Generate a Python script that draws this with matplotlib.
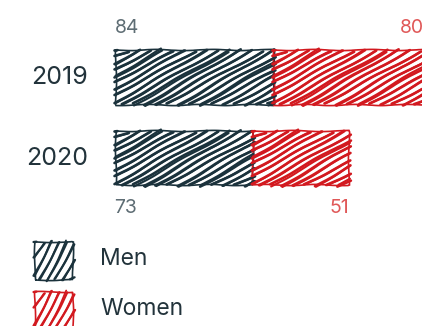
import matplotlib
matplotlib.use("Agg")
import matplotlib.pyplot as plt
import numpy as np
from matplotlib.lines import Line2D
from matplotlib.patches import Rectangle
from matplotlib.transforms import IdentityTransform

years = ["2019", "2020"]
men = [84, 73]
women = [80, 51]
series = ["Men", "Women"]

MEN_COLOR = "#1b323c"
WOMEN_COLOR = "#d2191f"
MEN_LABEL = "#5e6d74"
WOMEN_LABEL = "#e05858"
TEXT = "#22333b"

plt.rcParams["font.family"] = ["Inter", "DejaVu Sans"]

W, H = 422, 326
fig = plt.figure(figsize=(W / 100, H / 100), dpi=100)
ax = fig.add_axes([116 / W, 1 - 230 / H, 1 - 116 / W, 230 / H])
ax.set_xlim(0, (W - 116) / 1.88)
ax.set_ylim(1.883, -0.957)
ax.axis("off")

leg = fig.add_axes([0, 0, 1, 1])
leg.set_xlim(0, W)
leg.set_ylim(H, 0)
leg.axis("off")

# small fixed offsets so the pen strokes don't look ruled
JITTER = [0.0, 1.3, -0.8, 0.6, -1.4, 1.0, -0.3, 0.9, -1.1, 0.4, 1.5, -0.6]


def stroke(xa, ya, xb, yb, color, lw):
    ln = Line2D([xa, xb], [ya, yb], color=color, lw=lw,
                solid_capstyle="round", transform=IdentityTransform())
    ln.set_sketch_params(0.7, 80, 2)
    fig.add_artist(ln)


def hachure(x0, y0, x1, y1, color, angle=30, gap=5.0, lw=1.8):
    # diagonal pen strokes filling a box given in display pixels
    t = np.tan(np.radians(angle))
    step = gap / np.sin(np.radians(angle))
    c = x0 - (y1 - y0) / t
    n = 0
    while c < x1:
        xa, ya = c, y0
        xb, yb = c + (y1 - y0) / t, y1
        if xa < x0:
            ya = y0 + (x0 - xa) * t
            xa = x0
        if xb > x1:
            yb = y1 - (xb - x1) * t
            xb = x1
        j1 = JITTER[n % len(JITTER)]
        j2 = JITTER[(n * 5 + 3) % len(JITTER)]
        stroke(xa - 1.5, ya + j1 * 0.8, xb + 1.5, yb + j2 * 0.8, color, lw)
        # second pass of the pen, slightly skewed
        stroke(xa - 0.5, ya - j2, xb + 0.5, yb - j1, color, lw * 0.8)
        n += 1
        c += step


def sketch_box(axis, x, y, w, h, color, angle, gap, lw=1.8):
    box = Rectangle((x, y), w, h, fill=False, edgecolor=color, lw=1.2, clip_on=False)
    box.set_sketch_params(0.6, 60, 2)
    axis.add_patch(box)
    (px0, py0), (px1, py1) = axis.transData.transform([(x, y), (x + w, y + h)])
    hachure(min(px0, px1), min(py0, py1), max(px0, px1), max(py0, py1), color, angle, gap, lw)


bar_h = 0.667
for i, year in enumerate(years):
    sketch_box(ax, 0, i - bar_h / 2, men[i], bar_h, MEN_COLOR, 30, 5.6, 1.9)
    sketch_box(ax, men[i], i - bar_h / 2, women[i], bar_h, WOMEN_COLOR, 30, 5.6, 1.9)
    ax.annotate(year, xy=(0, i), xytext=(-20, 0), textcoords="offset points",
                ha="right", va="center", fontsize=18, color=TEXT)
    # first row labelled above, second row below
    if i == 0:
        yy, off = i - bar_h / 2, 16
    else:
        yy, off = i + bar_h / 2, -16
    ax.annotate(str(men[i]), xy=(0, yy), xytext=(-1, off), textcoords="offset points",
                ha="left", va="center", fontsize=14, color=MEN_LABEL)
    ax.annotate(str(women[i]), xy=(men[i] + women[i], yy), xytext=(0, off),
                textcoords="offset points", ha="right", va="center", fontsize=14,
                color=WOMEN_LABEL, annotation_clip=False)

# legend
for j, (name, col) in enumerate(zip(series, [MEN_COLOR, WOMEN_COLOR])):
    top = 242 + 50 * j
    sketch_box(leg, 35, top + 38, 38, -38, col, 65, 7.0, 1.6)
    leg.text(100, top + 17, name, ha="left", va="center", fontsize=16.5, color=TEXT)

fig.savefig("out.png", dpi=100)
